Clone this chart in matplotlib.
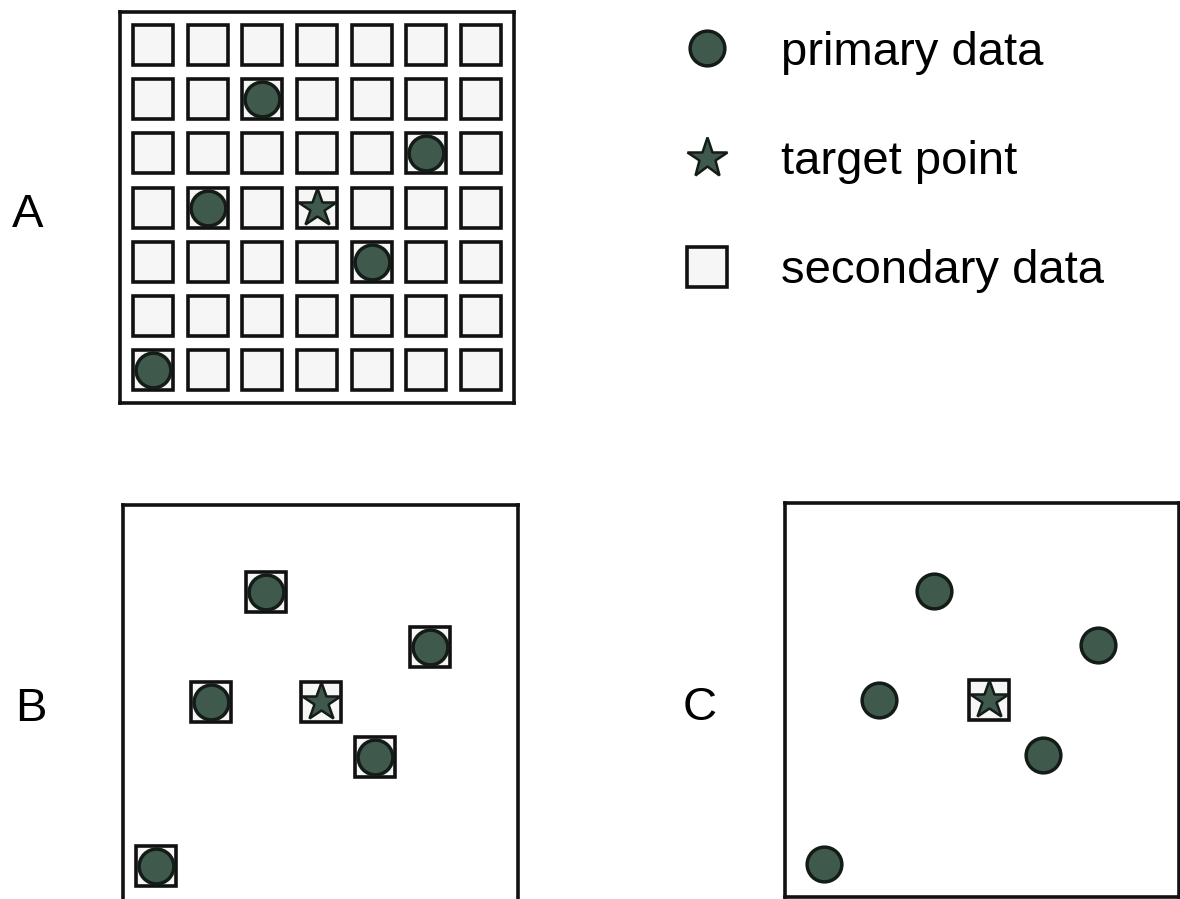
import numpy as np
import matplotlib.pyplot as plt
from matplotlib.lines import Line2D

plt.rcParams['font.family'] = ['Liberation Sans', 'DejaVu Sans']

# grid of secondary data cells (7 x 7), row 0 at the top
n_cells = 7
# primary data locations (column, row)
primary_col = [2, 5, 1, 4, 0]
primary_row = [1, 2, 3, 4, 6]
# target point (column, row)
target_col = [3]
target_row = [3]

panel_labels = ['A', 'B', 'C']
legend_labels = ['primary data', 'target point', 'secondary data']

circle_face = '#3f5a4c'
circle_edge = '#141c18'
square_face = '#f6f6f6'
W, H = 1180, 899


def frame(ax, xlim, ylim):
    ax.set_xlim(*xlim)
    ax.set_ylim(*ylim)
    ax.set_xticks([])
    ax.set_yticks([])
    for s in ax.spines.values():
        s.set_linewidth(2.6)
        s.set_color('#111111')


def squares(ax, cols, rows):
    ax.plot(cols, rows, ls='none', marker='s', ms=29, mfc=square_face,
            mec='#111111', mew=2.6, zorder=2)


def circles(ax):
    ax.plot(primary_col, primary_row, ls='none', marker='o', ms=25,
            mfc=circle_face, mec=circle_edge, mew=2.5, zorder=3)


def star(ax):
    ax.plot(target_col, target_row, ls='none', marker='*', ms=29,
            mfc=circle_face, mec=circle_edge, mew=1.8, zorder=4)


fig = plt.figure(figsize=(W / 100, H / 100), dpi=100)


def add_axes(left, top, width, height):
    return fig.add_axes([left / W, 1 - (top + height) / H, width / W, height / H])


# panel A: full grid
axA = add_axes(120, 12, 394, 391)
frame(axA, (-0.6, 6.6), (6.6, -0.6))
gx, gy = np.meshgrid(np.arange(n_cells), np.arange(n_cells))
squares(axA, gx.ravel(), gy.ravel())
circles(axA)
star(axA)

# panel B: secondary data only at primary locations and target
axB = add_axes(123, 505, 395, 397)
frame(axB, (-0.6, 6.6), (6.66, -0.6))
squares(axB, primary_col + target_col, primary_row + target_row)
circles(axB)
star(axB)

# panel C: secondary data only at target
axC = add_axes(785, 503, 394, 394)
frame(axC, (-0.72, 6.48), (6.6, -0.6))
squares(axC, target_col, target_row)
circles(axC)
star(axC)

for lab, (x, y) in zip(panel_labels, [(28, 215), (31, 709), (700, 708)]):
    fig.text(x / W, 1 - y / H, lab, fontsize=34, ha='center', va='center')

handles = [
    Line2D([], [], ls='none', marker='o', ms=25, mfc=circle_face, mec=circle_edge, mew=2.5),
    Line2D([], [], ls='none', marker='*', ms=30, mfc=circle_face, mec=circle_edge, mew=1.8),
    Line2D([], [], ls='none', marker='s', ms=29, mfc=square_face, mec='#111111', mew=2.6),
]
fig.legend(handles, legend_labels, loc='upper left', bbox_to_anchor=(683 / W, 1 - 31 / H),
           frameon=False, fontsize=34, handlelength=1.0, handletextpad=1.07,
           labelspacing=1.38, borderpad=0, borderaxespad=0)

fig.savefig('out.png', dpi=100)
